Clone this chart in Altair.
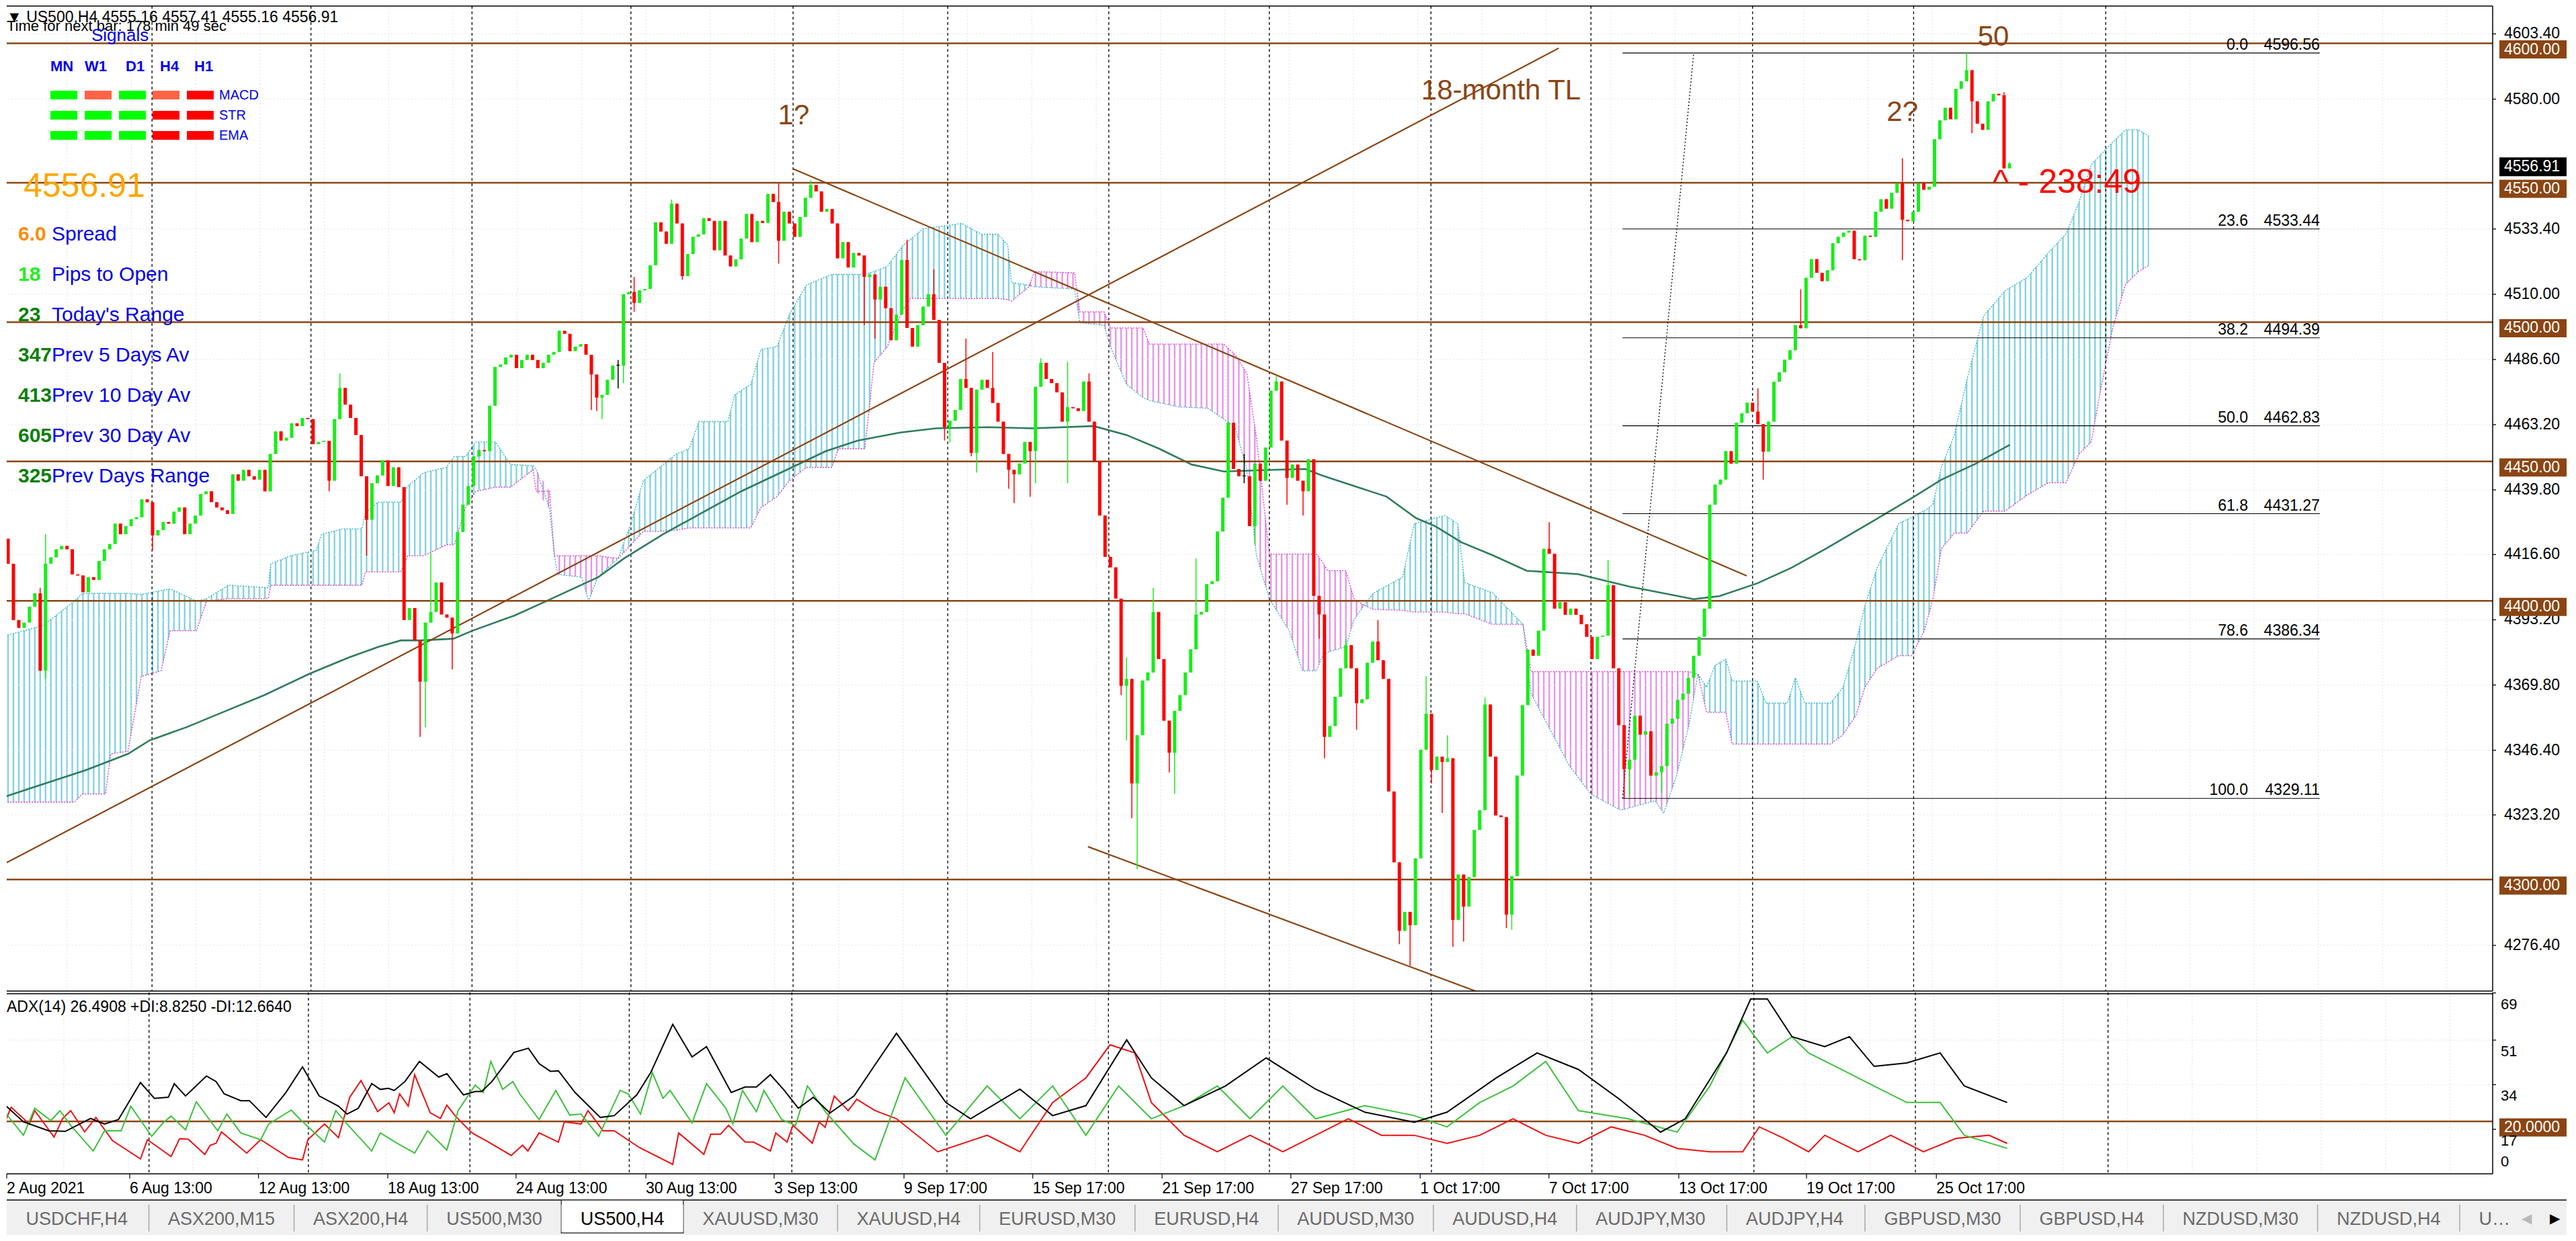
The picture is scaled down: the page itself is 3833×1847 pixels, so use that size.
import altair as alt
import pandas as pd

FONT = "Liberation Sans"
NARROW = "Liberation Sans Narrow, Liberation Sans"
BROWN = "#8B4513"
BULL = "#17EE17"
BEAR = "#FF0000"
BLUE = "#0000EE"

W, H_MAIN, H_ADX = 3699, 1466, 270
X_DOM = [0.376, 463.68]
P_DOM = [4260.0, 4613.4]
A_DOM = [0.0, 69.2]
RIGHT_EDGE = 3809

# ------------------------------------------------------------------ data
title_text = "\u25bc US500,H4  4555.16 4557.41 4555.16 4556.91"
timer_text = "Time for next bar: 178 min 49 sec"
adx_text = "ADX(14) 26.4908 +DI:8.8250 -DI:12.6640"

first_open = 4422.3
closes = [
    4413.3, 4393.1, 4390.3, 4392.2, 4397.9, 4402.7, 4374.9, 4413.3, 4415.6, 4418.5,
    4419.7, 4418.5, 4409.5, 4409.1, 4403.1, 4408.5, 4407.5, 4414.3, 4418.5, 4420.4,
    4427.7, 4423.9, 4426.8, 4429.3, 4430.0, 4436.4, 4435.4, 4423.5, 4425.4, 4428.3,
    4427.7, 4432.0, 4433.5, 4423.9, 4427.7, 4430.6, 4438.3, 4439.3, 4435.4, 4433.5,
    4432.5, 4431.2, 4445.4, 4443.1, 4447.0, 4444.7, 4443.5, 4447.0, 4439.3, 4452.7,
    4460.8, 4457.5, 4458.5, 4463.7, 4462.7, 4465.6, 4465.2, 4456.2, 4457.0, 4457.4,
    4443.1, 4465.2, 4476.4, 4470.4, 4465.6, 4459.5, 4444.7, 4429.1, 4442.2, 4445.0,
    4450.4, 4441.2, 4447.9, 4440.8, 4393.1, 4397.4, 4385.8, 4371.0, 4392.2, 4396.0,
    4406.6, 4395.1, 4394.0, 4388.3, 4424.7, 4434.5, 4441.2, 4451.8, 4454.1, 4453.7,
    4470.0, 4483.9, 4484.8, 4487.3, 4488.3, 4483.5,
    4486.4, 4488.3, 4486.4, 4483.5, 4485.4, 4488.3, 4489.3, 4496.9, 4495.8, 4489.6,
    4491.2, 4492.1, 4488.3, 4481.2, 4472.9, 4473.9, 4479.3, 4484.4, 4484.4, 4510.0,
    4510.8, 4506.9, 4511.4, 4511.9, 4520.4, 4535.8, 4532.5, 4528.1, 4542.5, 4535.4,
    4516.5, 4524.4, 4530.6, 4531.5, 4537.3, 4536.3, 4525.8, 4536.3, 4523.9, 4520.0,
    4522.5, 4530.0, 4538.8, 4528.7, 4536.3, 4535.6, 4546.0, 4543.1, 4529.2, 4539.6,
    4535.4, 4530.6, 4537.7, 4544.6, 4549.2, 4546.9, 4539.6, 4540.6, 4535.4, 4522.9,
    4528.7, 4519.6, 4524.8, 4523.9, 4516.2, 4517.1, 4508.1, 4512.7, 4505.0, 4493.5,
    4502.7, 4522.3, 4497.9, 4491.2, 4498.9, 4505.6, 4510.0, 4500.8, 4485.4, 4462.3,
    4464.6, 4468.5, 4479.6, 4476.4, 4453.1, 4475.8, 4479.3, 4476.4, 4471.0, 4464.3,
    4452.7, 4447.0,
    4445.4, 4449.3, 4457.0, 4453.7, 4476.8, 4485.4, 4479.6, 4478.1, 4474.8, 4464.3,
    4469.5, 4469.1, 4468.1, 4478.7, 4464.3, 4450.2, 4430.6, 4415.8, 4412.0, 4400.8,
    4369.5, 4372.0, 4334.5, 4351.8, 4371.4, 4374.3, 4396.0, 4379.1, 4357.0, 4345.5,
    4360.5, 4366.2, 4374.3, 4382.6, 4395.1, 4396.0, 4406.0, 4407.0, 4424.9, 4437.0,
    4463.9, 4447.3, 4444.7, 4444.7, 4426.8, 4449.3, 4443.1, 4455.0, 4475.4, 4478.7,
    4457.5, 4444.1, 4448.9, 4443.1, 4439.3, 4450.8, 4401.8, 4395.1, 4351.2, 4355.1,
    4365.6, 4375.8, 4384.1, 4375.8, 4363.3, 4364.7, 4377.8, 4385.4, 4378.7, 4372.0,
    4331.6, 4306.2, 4281.6, 4288.4, 4283.6, 4307.6, 4346.6, 4359.5, 4339.3, 4344.1,
    4342.2, 4343.5, 4285.5, 4301.8, 4290.3, 4300.9, 4317.8, 4324.9, 4362.8, 4344.1,
    4323.0, 4322.4, 4287.4,
    4301.2, 4337.3, 4362.6, 4382.5, 4380.3, 4389.3, 4418.7, 4416.9, 4397.2, 4399.5,
    4395.0, 4397.2, 4395.0, 4391.6, 4387.1, 4379.1, 4387.1, 4387.5, 4405.6, 4375.8,
    4355.4, 4339.6, 4343.0, 4358.8, 4352.0, 4353.2, 4337.3, 4338.5, 4340.7, 4355.9,
    4357.7, 4364.5, 4366.7, 4372.4, 4380.3, 4387.1, 4397.2, 4434.5, 4441.7, 4443.5,
    4453.7, 4449.2, 4463.9, 4467.3, 4471.1, 4467.9, 4463.4, 4453.5, 4464.3, 4478.6,
    4482.0, 4486.5, 4489.9, 4498.9, 4497.8, 4515.9, 4522.6, 4517.7, 4514.7, 4518.6,
    4528.3, 4530.6, 4532.1, 4532.8, 4522.6, 4522.2, 4531.0, 4530.6, 4539.6, 4544.1,
    4540.7, 4546.4, 4549.8, 4536.7, 4536.2, 4539.6, 4549.8, 4547.5, 4548.6, 4565.6,
    4572.4, 4576.9, 4572.8, 4583.7, 4586.4, 4590.4, 4579.2, 4571.2, 4569.0, 4579.2,
    4581.9, 4581.4, 4555.16, 4556.91,
]

# (bar, high, low) for visible wicks
wicks = [
    (6, 4404.7, None), (7, 4423.9, 4372.0), (27, None, 4418.1), (60, None, 4439.3),
    (62, 4481.6, None), (67, None, 4416.2), (77, None, 4351.2), (78, None, 4354.7),
    (79, 4417.2, None), (83, None, 4375.4), (109, None, 4468.5), (110, None, 4468.1),
    (111, None, 4465.2), (114, 4486.4, 4476.2), (115, None, 4478.1), (117, 4516.2, 4503.7),
    (124, 4544.0, None), (126, None, 4515.2), (144, 4549.8, 4521.0), (150, 4551.0, None),
    (160, None, 4498.9), (162, None, 4494.1), (168, 4529.6, None), (173, 4519.0, None),
    (175, None, 4457.5), (176, None, 4456.9), (179, 4494.1, None), (180, None, 4451.8),
    (181, None, 4446.0), (184, 4489.3, None), (187, None, 4440.2), (188, None, 4435.1),
    (191, None, 4437.3), (192, None, 4442.2), (193, 4487.0, None), (198, 4485.8, 4442.2),
    (202, 4481.6, None), (208, None, 4366.2), (209, 4379.7, 4349.9), (210, None, 4322.0),
    (211, None, 4303.7), (214, 4404.7, None), (217, None, 4338.4), (218, None, 4330.7),
    (222, 4415.2, None), (231, 4452.7, 4442.2), (233, None, 4420.1), (237, 4480.6, None),
    (239, None, 4434.5), (242, None, 4430.6), (245, None, 4386.4), (246, None, 4343.5),
    (250, 4386.4, None), (252, None, 4353.7), (256, 4393.1, None), (260, None, 4276.8),
    (262, None, 4269.1), (265, 4373.0, None), (266, None, 4334.5), (268, None, 4323.9),
    (269, 4351.8, None), (270, None, 4275.9), (272, None, 4277.8), (276, 4365.3, None),
    (280, None, 4282.6), (281, None, 4282.0), (288, 4428.2, None), (299, 4414.6, None),
    (302, None, 4329.11), (303, None, 4330.0), (309, None, 4331.0), (327, 4476.3, None),
    (328, None, 4443.5), (335, 4511.8, None), (354, 4558.8, 4522.2), (366, 4596.56, None),
    (367, None, 4567.8), (373, 4582.5, None), (374, 4557.41, 4555.16),
]

price_ticks = [4603.4, 4580.0, 4533.4, 4510.0, 4486.6, 4463.2, 4439.8, 4416.6,
               4393.2, 4369.8, 4346.4, 4323.2, 4276.4]
levels = [4600.0, 4550.0, 4500.0, 4450.0, 4400.0, 4300.0]
last_price = 4556.91

fib_pct = ["0.0", "23.6", "38.2", "50.0", "61.8", "78.6", "100.0"]
fib_price = [4596.56, 4533.44, 4494.39, 4462.83, 4431.27, 4386.34, 4329.11]
fib_from, fib_to, fib_pct_at = 301.7, 432.0, 418.6
fib_diag_i = [301.7, 315.0]
fib_diag_p = [4329.11, 4596.56]

trend_names = ["18-month", "down", "channel"]
trend_i0 = [-0.63, 146.7, 201.8]
trend_p0 = [4305.7, 4555.0, 4311.8]
trend_i1 = [289.8, 324.9, 274.9]
trend_p1 = [4598.3, 4409.0, 4259.5]

cloud_i = [-0.6, 6.6, 12.4, 13.9, 18.2, 19.2, 22.4, 24.9, 28.6, 30.3, 35.2, 37.1, 41.2, 48.6,
           49.1, 52.9, 57.6, 58.6, 62.5, 66.1, 66.8, 69.1, 73.4, 74.7, 77.7, 81.9, 83.4, 85.5,
           87.4, 91.1, 93.9, 98.1, 98.7, 101.2, 102.1, 102.7, 107.2, 108.5, 110.2, 114.0,
           116.4, 118.7, 121.2, 124.9, 127.3, 129.1, 134.5, 135.8, 138.8, 140.7, 143.7, 146.0,
           149.2, 153.9, 155.2, 160.1, 161.0, 161.8, 164.3, 167.3, 168.6, 171.0, 178.2, 181.9,
           185.0, 186.8, 187.5, 190.8, 191.8, 199.3, 200.3, 204.8, 206.0, 209.0, 212.1, 213.3,
           218.7, 224.2, 227.2, 229.3, 231.5, 233.3, 235.7, 239.4, 241.9, 244.5, 245.5, 246.6,
           250.0, 251.5, 253.4, 255.1, 260.6, 262.8, 268.5, 270.9, 272.2, 277.4, 283.1, 284.6,
           291.8, 295.8, 301.4, 307.8, 309.4, 311.8, 314.1, 315.8, 317.4, 319.0, 321.0, 322.2,
           326.9, 328.5, 332.5, 334.0, 335.8, 340.6, 342.9, 345.3, 347.0, 349.3, 353.3, 355.7,
           358.1, 359.7, 361.3, 363.7, 366.1, 369.2, 373.2, 377.3, 381.3, 384.6, 387.0, 389.3,
           391.0, 393.3, 395.7, 398.1, 400.1]
cloud_a = [4387.4, 4391.2, 4399.9, 4402.7, 4402.7, 4402.7, 4402.7, 4402.3, 4403.7, 4404.3,
           4399.9, 4400.8, 4405.6, 4404.7, 4413.3, 4416.2, 4418.1, 4423.9, 4425.8, 4425.8,
           4431.6, 4435.4, 4435.4, 4441.2, 4446.0, 4447.9, 4451.8, 4451.8, 4457.0, 4457.0,
           4448.9, 4448.5, 4447.0, 4433.1, 4416.2, 4409.5, 4408.5, 4399.9, 4408.5, 4415.2,
           4427.7, 4443.1, 4447.0, 4452.7, 4454.6, 4464.3, 4464.3, 4473.9, 4477.7, 4490.2,
           4491.2, 4502.7, 4513.3, 4517.1, 4517.1, 4517.1, 4517.7, 4518.1, 4520.0, 4527.7,
           4529.6, 4533.5, 4535.4, 4531.5, 4531.5, 4527.7, 4514.2, 4513.3, 4512.7, 4511.9,
           4499.8, 4498.9, 4491.2, 4477.7, 4472.9, 4471.9, 4469.6, 4469.1, 4465.2, 4462.3,
           4447.0, 4416.2, 4400.8, 4389.3, 4374.9, 4374.9, 4379.7, 4381.6, 4383.5, 4393.1,
           4398.4, 4402.7, 4408.5, 4427.7, 4430.6, 4427.7, 4406.6, 4402.9, 4391.6, 4366.7,
           4340.7, 4330.6, 4324.9, 4328.3, 4323.8, 4337.3, 4355.4, 4373.7, 4369.0, 4376.9,
           4379.1, 4371.2, 4371.2, 4363.3, 4363.3, 4372.4, 4363.3, 4363.3, 4369.0, 4384.8,
           4398.3, 4411.9, 4427.7, 4430.0, 4432.3, 4434.5, 4448.1, 4459.4, 4479.7, 4502.3,
           4511.3, 4515.9, 4524.9, 4531.7, 4543.0, 4556.5, 4559.9, 4564.5, 4569.0, 4569.0,
           4566.7]
cloud_b = [4327.8, 4327.8, 4327.8, 4330.7, 4330.7, 4345.1, 4346.0, 4372.9, 4374.9, 4389.3,
           4389.3, 4399.9, 4400.8, 4400.8, 4405.6, 4405.6, 4405.6, 4405.6, 4405.6, 4405.6,
           4410.4, 4410.4, 4410.4, 4416.2, 4416.2, 4420.1, 4420.1, 4433.5, 4439.3, 4440.8,
           4440.8, 4447.0, 4439.3, 4439.3, 4416.2, 4416.2, 4416.2, 4416.2, 4416.2, 4415.2,
           4420.1, 4424.9, 4424.9, 4425.4, 4426.2, 4426.2, 4426.2, 4426.2, 4426.2, 4433.5,
           4437.4, 4443.1, 4447.9, 4447.9, 4454.6, 4454.6, 4470.0, 4485.4, 4491.2, 4504.6,
           4508.5, 4508.5, 4508.5, 4508.5, 4508.5, 4508.1, 4507.5, 4512.7, 4518.1, 4517.7,
           4503.7, 4503.7, 4497.9, 4497.9, 4497.9, 4492.1, 4492.1, 4492.1, 4492.1, 4488.3,
           4481.6, 4458.5, 4416.8, 4416.8, 4416.8, 4416.8, 4414.3, 4410.8, 4410.8, 4400.8,
           4398.4, 4397.0, 4396.6, 4396.0, 4396.0, 4395.4, 4395.4, 4391.6, 4391.6, 4374.6,
           4374.6, 4374.6, 4374.6, 4374.6, 4374.6, 4374.6, 4374.6, 4373.7, 4360.0, 4360.0,
           4360.0, 4348.6, 4348.6, 4348.6, 4348.6, 4348.6, 4348.6, 4348.6, 4352.0, 4358.8,
           4369.0, 4375.8, 4380.3, 4380.3, 4389.3, 4400.6, 4418.7, 4424.3, 4424.3, 4432.2,
           4432.2, 4437.9, 4442.4, 4442.4, 4452.6, 4457.1, 4475.2, 4497.8, 4513.6, 4518.1,
           4520.4]

ema_i = [-0.6, 5.4, 14.6, 22.4, 26.4, 33.4, 40.7, 47.9, 56.4, 63.7, 69.2, 73.4, 77.1, 83.2,
         86.8, 94.6, 99.9, 110.3, 115.1, 122.4, 129.7, 137.0, 145.5, 152.8, 158.8, 166.7,
         173.4, 183.1, 191.4, 202.9, 209.0, 215.1, 221.2, 227.2, 236.3, 242.4, 245.5, 251.5,
         257.6, 263.1, 266.7, 271.6, 277.4, 283.8, 293.4, 303.0, 315.0, 319.8, 326.9, 333.3,
         339.7, 347.7, 355.7, 361.3, 367.7, 374.1]
ema_v = [4329.7, 4333.5, 4339.3, 4345.1, 4349.9, 4354.7, 4360.5, 4366.2, 4373.9, 4379.7,
         4383.5, 4385.8, 4385.8, 4386.4, 4389.3, 4394.7, 4399.3, 4408.5, 4415.2, 4423.9,
         4431.6, 4439.3, 4447.0, 4453.7, 4457.5, 4460.4, 4461.9, 4462.3, 4461.9, 4462.7,
         4459.5, 4454.6, 4448.9, 4446.4, 4447.0, 4447.3, 4445.0, 4441.2, 4437.4, 4429.7,
         4426.8, 4421.0, 4416.4, 4410.8, 4409.6, 4405.1, 4400.6, 4401.7, 4406.3, 4411.9,
         4418.7, 4427.7, 4436.8, 4443.5, 4449.2, 4456.0]

separators = [26.9, 56.6, 86.7, 116.4, 146.7, 175.6, 205.7, 235.7, 265.9, 295.8, 326.0,
              356.1, 392.0]

date_pos = [-1, 23.3, 47.3, 71.4, 95.3, 119.5, 143.4, 167.6, 191.6, 215.7, 239.7, 263.8,
            287.8, 312.0, 335.8, 360.0]
date_lab = ["2 Aug 2021", "6 Aug 13:00", "12 Aug 13:00", "18 Aug 13:00", "24 Aug 13:00",
            "30 Aug 13:00", "3 Sep 13:00", "9 Sep 17:00", "15 Sep 17:00", "21 Sep 17:00",
            "27 Sep 17:00", "1 Oct 17:00", "7 Oct 17:00", "13 Oct 17:00", "19 Oct 17:00",
            "25 Oct 17:00"]

adx_main = [(-0.6, 27.5), (3.5, 19.8), (8.2, 16.4), (11.3, 16.2), (16.0, 21.1), (18.6, 19.0),
            (21.2, 20.7), (25.3, 34.8), (27.9, 28.8), (30.5, 29.2), (31.6, 34.4), (33.7, 29.7),
            (37.6, 37.3), (39.4, 35.2), (40.9, 30.5), (44.0, 27.9), (45.6, 27.9), (48.7, 21.5),
            (52.4, 31.0), (55.5, 40.8), (58.6, 29.7), (62.2, 25.8), (63.8, 22.8), (65.9, 25.0),
            (68.4, 34.4), (70.0, 32.2), (71.5, 32.6), (72.6, 31.8), (74.6, 35.2), (77.3, 42.9),
            (80.9, 36.9), (82.4, 38.2), (85.5, 30.1), (87.7, 31.4), (88.9, 31.4), (90.8, 35.2),
            (94.9, 46.3), (97.6, 47.9), (99.6, 42.0), (101.7, 39.1), (103.2, 39.3), (106.3, 31.0),
            (111.0, 21.5), (113.6, 22.2), (117.8, 30.1), (120.4, 38.6), (124.5, 57.0),
            (128.1, 44.6), (130.8, 48.5), (135.4, 31.0), (138.0, 33.1), (140.1, 33.1),
            (142.7, 37.8), (145.3, 31.8), (147.9, 25.0), (150.7, 29.2), (153.8, 23.2),
            (158.3, 29.7), (162.2, 41.6), (166.2, 53.6), (175.4, 27.2), (180.0, 21.0),
            (189.2, 32.3), (195.3, 22.2), (201.5, 26.0), (209.1, 51.1), (213.7, 36.6),
            (219.8, 26.0), (227.5, 33.5), (235.1, 44.2), (244.3, 32.3), (253.5, 23.5),
            (262.7, 19.7), (268.8, 23.5), (278.0, 36.6), (285.6, 46.1), (293.3, 39.8),
            (300.9, 28.5), (308.6, 15.9), (313.2, 21.0), (320.9, 46.1), (325.4, 66.7),
            (328.5, 66.7), (333.1, 52.3), (339.2, 48.5), (343.8, 52.3), (348.4, 41.0),
            (354.5, 42.3), (360.7, 46.1), (365.2, 33.5), (373.2, 27.2)]
adx_plus = [(-0.6, 25.0), (3.5, 14.7), (5.6, 25.0), (8.6, 20.3), (10.3, 24.1), (12.3, 18.5),
            (16.5, 8.7), (18.6, 16.4), (21.7, 16.4), (23.5, 25.8), (27.4, 14.3), (29.5, 19.4),
            (31.0, 22.0), (33.7, 16.8), (35.7, 27.5), (39.7, 16.4), (41.4, 22.8), (44.0, 15.6),
            (47.7, 13.0), (49.2, 19.0), (53.4, 24.3), (54.9, 21.1), (59.6, 12.1), (61.7, 24.1),
            (63.8, 19.0), (68.4, 8.7), (70.0, 15.6), (73.1, 11.7), (76.4, 7.9), (78.8, 16.4),
            (82.4, 9.1), (84.5, 24.1), (87.7, 33.9), (89.2, 31.0), (90.6, 42.9), (92.8, 32.2),
            (94.7, 35.2), (96.0, 30.5), (99.6, 20.7), (102.7, 31.8), (105.3, 22.4),
            (107.4, 22.8), (110.7, 14.3), (114.7, 31.8), (116.2, 30.5), (118.5, 22.8),
            (120.7, 38.6), (122.7, 28.8), (124.0, 31.8), (128.1, 19.4), (130.8, 34.4),
            (134.4, 25.0), (135.7, 19.0), (137.5, 31.8), (140.1, 23.7), (141.5, 31.8),
            (144.8, 20.7), (147.4, 18.5), (149.6, 33.5), (153.1, 23.3), (158.3, 11.3),
            (162.2, 5.3), (167.8, 36.6), (175.4, 14.7), (183.1, 33.5), (189.2, 21.0),
            (195.3, 33.5), (201.5, 14.7), (207.6, 33.5), (213.7, 21.0), (219.8, 26.0),
            (226.0, 33.5), (232.1, 21.0), (238.2, 33.5), (244.3, 21.0), (253.5, 26.0),
            (262.7, 22.2), (268.8, 17.9), (274.9, 27.2), (281.1, 33.5), (287.2, 42.9),
            (293.3, 24.1), (302.5, 21.0), (311.7, 15.9), (317.8, 33.5), (323.9, 58.6),
            (328.5, 46.1), (333.1, 52.3), (336.2, 46.1), (342.3, 39.8), (348.4, 33.5),
            (354.5, 27.2), (360.7, 27.2), (365.2, 14.7), (373.2, 9.7)]
adx_minus = [(-0.6, 16.4), (1.2, 25.4), (4.6, 19.0), (5.6, 24.1), (9.2, 14.0), (10.8, 21.1),
             (12.3, 24.1), (14.9, 16.0), (17.0, 21.5), (20.1, 12.6), (25.3, 5.7), (26.6, 13.0),
             (31.0, 6.6), (32.6, 13.4), (34.2, 13.2), (37.3, 7.4), (38.3, 10.9), (39.4, 11.7),
             (40.4, 16.0), (45.1, 7.9), (47.7, 13.0), (52.9, 6.2), (55.5, 5.3), (56.5, 13.0),
             (59.6, 19.0), (62.2, 13.8), (64.3, 29.2), (66.4, 35.6), (69.5, 23.7), (71.6, 27.1),
             (72.6, 23.3), (73.6, 30.5), (75.2, 25.8), (76.4, 37.8), (79.3, 23.3), (81.2, 21.1),
             (82.4, 26.2), (84.0, 22.0), (87.1, 15.6), (90.2, 12.1), (94.4, 7.0), (96.5, 10.9),
             (97.5, 8.7), (99.6, 15.6), (103.2, 12.1), (104.3, 19.8), (107.4, 19.0),
             (108.7, 24.1), (109.5, 22.0), (111.5, 16.4), (113.6, 16.4), (118.3, 10.0),
             (124.5, 3.6), (125.6, 15.6), (130.3, 7.4), (131.6, 15.1), (133.4, 15.1),
             (134.9, 18.5), (138.0, 12.1), (139.6, 12.1), (142.7, 8.7), (143.7, 15.6),
             (145.8, 12.1), (146.9, 18.5), (150.5, 11.7), (151.8, 19.8), (152.9, 17.7),
             (154.6, 29.7), (157.2, 24.1), (158.8, 28.4), (162.2, 24.1), (166.2, 21.0),
             (173.9, 8.4), (183.1, 14.7), (189.2, 8.4), (195.3, 27.2), (201.5, 36.6),
             (206.0, 49.2), (210.6, 46.1), (213.7, 27.2), (219.8, 14.7), (226.0, 8.4),
             (232.1, 14.7), (238.2, 8.4), (244.3, 14.7), (250.4, 21.0), (256.6, 14.7),
             (262.7, 14.7), (268.8, 11.6), (274.9, 14.7), (281.1, 21.0), (287.2, 14.7),
             (293.3, 11.6), (299.4, 17.9), (305.6, 14.7), (311.7, 9.7), (317.8, 8.4),
             (323.9, 8.4), (327.0, 17.9), (331.6, 13.5), (336.2, 8.4), (339.2, 14.7),
             (345.4, 8.4), (351.5, 14.7), (357.6, 8.4), (363.7, 13.5), (369.8, 14.7),
             (373.2, 11.6)]
adx_level = 20.0
adx_ticks = [69, 51, 34, 17]

notes = ["1?", "18-month TL", "50", "2?"]
notes_i = [146.8, 279.0, 371.0, 354.0]
notes_p = [4574.1, 4583.0, 4602.3, 4575.3]
countdown = "^ - 238:49"
countdown_i, countdown_p = 370.9, 4546.4

info_vals = ["6.0", "18", "23", "347", "413", "605", "325"]
info_labs = ["Spread", "Pips to Open", "Today's Range", "Prev 5 Days Av", "Prev 10 Day Av",
             "Prev 30 Day Av", "Prev Days Range"]
info_cols = ["#FF8C00", "#22EE22", "#0A7F0A", "#0A7F0A", "#0A7F0A", "#0A7F0A", "#0A7F0A"]

signal_tfs = ["MN", "W1", "D1", "H4", "H1"]
signal_rows = ["MACD", "STR", "EMA"]
signal_state = [["up", "soft", "up", "soft", "down"],
                ["up", "up", "up", "down", "down"],
                ["up", "up", "up", "down", "down"]]
signal_colors = {"up": "#00FF00", "soft": "#FF6347", "down": "#FF0000"}

tabs = ["USDCHF,H4", "ASX200,M15", "ASX200,H4", "US500,M30", "US500,H4", "XAUUSD,M30",
        "XAUUSD,H4", "EURUSD,M30", "EURUSD,H4", "AUDUSD,M30", "AUDUSD,H4", "AUDJPY,M30",
        "AUDJPY,H4", "GBPUSD,M30", "GBPUSD,H4", "NZDUSD,M30", "NZDUSD,H4", "USDJPY,M30"]
active_tab = "US500,H4"

# ------------------------------------------------------------------ helpers
XS = alt.Scale(domain=X_DOM, nice=False, zero=False)
PS = alt.Scale(domain=P_DOM, nice=False, zero=False)
AS = alt.Scale(domain=A_DOM, nice=False, zero=False)


def X(f):
    return alt.X(f"{f}:Q", scale=XS, axis=None)


def P(f):
    return alt.Y(f"{f}:Q", scale=PS, axis=None)


def A(f):
    return alt.Y(f"{f}:Q", scale=AS, axis=None)


def one():
    return pd.DataFrame({"a": [0]})


def pix_text(rows, **kw):
    df = pd.DataFrame(rows, columns=["px", "py", "t"])
    base = dict(align="left", baseline="alphabetic", font=FONT)
    base.update(kw)
    return alt.Chart(df).mark_text(**base).encode(
        x=alt.X("px:Q", scale=None, axis=None),
        y=alt.Y("py:Q", scale=None, axis=None),
        text="t:N")


# ------------------------------------------------------------------ candles
opens = [first_open] + closes[:-1]
wd = {k: (h, l) for k, h, l in wicks}
crow = []
for k, (o, c) in enumerate(zip(opens, closes)):
    top, bot = max(o, c), min(o, c)
    h, l = wd.get(k, (None, None))
    hi = h if h is not None else top
    lo = l if l is not None else bot
    col = BULL if c > o + 0.05 else (BEAR if c < o - 0.05 else "#000000")
    if top - bot < 0.3:
        top = bot + 0.3
    crow.append(dict(i=k, top=top, bot=bot, hi=max(hi, top), lo=min(lo, bot), col=col))
cdf = pd.DataFrame(crow)

wick_layer = alt.Chart(cdf).mark_rule(strokeWidth=1.5, clip=True).encode(
    x=X("i"), y=P("lo"), y2=alt.Y2("hi"), color=alt.Color("col:N", scale=None))
body_layer = alt.Chart(cdf).mark_bar(width=5, clip=True).encode(
    x=X("i"), y=P("bot"), y2=alt.Y2("top"), color=alt.Color("col:N", scale=None))

# ------------------------------------------------------------------ grid / separators
grid_i = [g for g in (-1 + 12.02 * k for k in range(40)) if X_DOM[0] <= g <= X_DOM[1]]
grid_v = alt.Chart(pd.DataFrame({"i": grid_i})).mark_rule(
    color="#E0E0E0", strokeDash=[2, 3], strokeWidth=1).encode(x=X("i"))
ptick_df = pd.DataFrame({"p": price_ticks, "lab": [f"{v:.2f}" for v in price_ticks]})
grid_h = alt.Chart(ptick_df).mark_rule(
    color="#E6E6E6", strokeDash=[2, 3], strokeWidth=1).encode(y=P("p"))
sep_df = pd.DataFrame({"i": separators})
sep_main = alt.Chart(sep_df).mark_rule(color="black", strokeDash=[4, 4], strokeWidth=1.3).encode(x=X("i"))

# price axis drawn with marks
p_axis_line = alt.Chart(one()).mark_rule(color="black", strokeWidth=1.5).encode(
    x=alt.value(W), y=alt.value(0), y2=alt.value(H_MAIN))
p_ticks = alt.Chart(ptick_df).mark_rule(color="black", strokeWidth=1.3).encode(
    x=alt.value(W), x2=alt.value(W + 5), y=P("p"))
p_labels = alt.Chart(ptick_df).mark_text(align="left", baseline="middle", font=FONT,
                                         fontSize=23, color="black").encode(
    x=alt.value(3716), y=P("p"), text="lab:N")

# ------------------------------------------------------------------ ichimoku cloud
def cloud_segments(ci, ca, cb):
    rows, seg, cur, sign = [], 0, [], 0
    for i, a, b in zip(ci, ca, cb):
        d = a - b
        s = 0 if abs(d) < 0.6 else (1 if d > 0 else -1)
        if s == 0:
            cur.append((i, a, b))
            if len(cur) > 1 and sign != 0:
                rows += [(seg, sign) + p for p in cur]
                seg += 1
            cur, sign = [(i, a, b)], 0
            continue
        if sign == 0:
            sign = s
        elif s != sign:
            rows += [(seg, sign) + p for p in cur]
            seg += 1
            cur, sign = [cur[-1]], s
        cur.append((i, a, b))
    if len(cur) > 1 and sign != 0:
        rows += [(seg, sign) + p for p in cur]
    df = pd.DataFrame(rows, columns=["seg", "sign", "i", "a", "b"])
    df["lo"] = df[["a", "b"]].min(axis=1)
    df["hi"] = df[["a", "b"]].max(axis=1)
    return df.sort_values(["seg", "i"]).reset_index(drop=True)


cloud_df = cloud_segments(cloud_i, cloud_a, cloud_b)
cloud_up = alt.Chart(cloud_df[cloud_df["sign"] == 1]).mark_area(
    color="#2FB4CA", opacity=0.6, clip=True, orient="vertical", interpolate="linear").encode(
    x=X("i"), y=P("lo"), y2=alt.Y2("hi"), detail="seg:N")
cloud_dn = alt.Chart(cloud_df[cloud_df["sign"] == -1]).mark_area(
    color="#D23CD2", opacity=0.55, clip=True, orient="vertical", interpolate="linear").encode(
    x=X("i"), y=P("lo"), y2=alt.Y2("hi"), detail="seg:N")
# white stripes between bars turn the filled cloud into a vertical hatch
stripe_i = [k + 0.5 for k in range(-1, 465) if X_DOM[0] - 1 <= k + 0.5 <= X_DOM[1] + 1]
hatch = alt.Chart(pd.DataFrame({"i": stripe_i})).mark_rule(
    color="white", strokeWidth=5.6, clip=True).encode(x=X("i"))
cl_df = pd.DataFrame({"i": cloud_i, "a": cloud_a, "b": cloud_b})
cloud_a_line = alt.Chart(cl_df).mark_line(color="#22AFC4", strokeDash=[2, 2], strokeWidth=1.3,
                                          clip=True).encode(x=X("i"), y=P("a"), order="i:Q")
cloud_b_line = alt.Chart(cl_df).mark_line(color="#D82CD8", strokeDash=[2, 2], strokeWidth=1.3,
                                          clip=True).encode(x=X("i"), y=P("b"), order="i:Q")

ema_layer = alt.Chart(pd.DataFrame({"i": ema_i, "v": ema_v})).mark_line(
    color="#2E7D5B", strokeWidth=2.6, clip=True).encode(x=X("i"), y=P("v"), order="i:Q")

# ------------------------------------------------------------------ levels, lines, fib
lev_df = pd.DataFrame({"p": levels, "lab": [f"{v:.2f}" for v in levels]})
lev_rule = alt.Chart(lev_df).mark_rule(color=BROWN, strokeWidth=2.5).encode(y=P("p"))
lev_box = alt.Chart(lev_df).mark_rect(color=BROWN, height=27, yOffset=9).encode(
    y=P("p"), x=alt.value(3709), x2=alt.value(RIGHT_EDGE))
lev_txt = alt.Chart(lev_df).mark_text(align="left", baseline="middle", color="white",
                                      font=FONT, fontSize=23, yOffset=9).encode(
    y=P("p"), x=alt.value(3716), text="lab:N")
cur_df = pd.DataFrame({"p": [last_price], "lab": [f"{last_price:.2f}"]})
cur_box = alt.Chart(cur_df).mark_rect(color="black", height=28, yOffset=5).encode(
    y=P("p"), x=alt.value(3709), x2=alt.value(RIGHT_EDGE))
cur_txt = alt.Chart(cur_df).mark_text(align="left", baseline="middle", color="white",
                                      font=FONT, fontSize=23, yOffset=5).encode(
    y=P("p"), x=alt.value(3716), text="lab:N")

tl_rows = []
for n, i0, p0, i1, p1 in zip(trend_names, trend_i0, trend_p0, trend_i1, trend_p1):
    tl_rows += [dict(name=n, i=i0, p=p0), dict(name=n, i=i1, p=p1)]
tl_layer = alt.Chart(pd.DataFrame(tl_rows)).mark_line(color=BROWN, strokeWidth=2.2, clip=True).encode(
    x=X("i"), y=P("p"), detail="name:N", order="i:Q")

fib_df = pd.DataFrame({"p": fib_price, "pct": fib_pct, "lab": [f"{v:.2f}" for v in fib_price],
                       "x0": fib_from, "x1": fib_to, "xp": fib_pct_at})
fib_rule = alt.Chart(fib_df).mark_rule(color="black", strokeWidth=1.1).encode(
    x=X("x0"), x2=alt.X2("x1"), y=P("p"))
fib_lab = alt.Chart(fib_df).mark_text(align="right", baseline="alphabetic", dy=-5, font=FONT,
                                      fontSize=23, color="black").encode(
    x=X("x1"), y=P("p"), text="lab:N")
fib_pct_t = alt.Chart(fib_df).mark_text(align="right", baseline="alphabetic", dy=-5, font=FONT,
                                        fontSize=23, color="black").encode(
    x=X("xp"), y=P("p"), text="pct:N")
fib_diag = alt.Chart(pd.DataFrame({"i": fib_diag_i, "p": fib_diag_p})).mark_line(
    color="black", strokeDash=[2, 3], strokeWidth=1.3).encode(x=X("i"), y=P("p"), order="i:Q")

note_layer = alt.Chart(pd.DataFrame({"t": notes, "i": notes_i, "p": notes_p})).mark_text(
    color=BROWN, font=NARROW, fontSize=42, align="center", baseline="middle").encode(
    x=X("i"), y=P("p"), text="t:N")
count_layer = alt.Chart(pd.DataFrame({"t": [countdown], "i": [countdown_i], "p": [countdown_p]})).mark_text(
    color="#FF0000", font=FONT, fontSize=50, align="left", baseline="alphabetic").encode(
    x=X("i"), y=P("p"), text="t:N")

# ------------------------------------------------------------------ pixel overlays (main)
title_l = pix_text([(0, 24, title_text)], fontSize=23, color="black")
timer_l = pix_text([(0, 37, timer_text)], fontSize=22, color="black")
signals_l = pix_text([(126, 52, "Signals")], fontSize=26, color=BLUE)
tf_x = [65, 116, 177, 228, 279]
tf_l = pix_text([(x, 97, t) for x, t in zip(tf_x, signal_tfs)], fontSize=22, color=BLUE,
                fontWeight="bold")
box_x = [65, 116, 167, 217, 268]
box_y = [126, 156, 186]
sb_rows = []
for r, row in enumerate(signal_state):
    for c, st in enumerate(row):
        sb_rows.append(dict(x0=box_x[c], x1=box_x[c] + 40, y0=box_y[r], y1=box_y[r] + 13,
                            col=signal_colors[st]))
sig_boxes = alt.Chart(pd.DataFrame(sb_rows)).mark_rect().encode(
    x=alt.X("x0:Q", scale=None, axis=None), x2="x1:Q",
    y=alt.Y("y0:Q", scale=None, axis=None), y2="y1:Q",
    color=alt.Color("col:N", scale=None))
sig_lab = pix_text([(316, by + 13, t) for by, t in zip(box_y, signal_rows)], fontSize=20,
                   color=BLUE)
big_price = pix_text([(25, 284, f"{last_price:.2f}")], fontSize=50, color="#FFA500")
info_rows_v = []
info_rows_l = []
for k, (v, l, c) in enumerate(zip(info_vals, info_labs, info_cols)):
    info_rows_v.append(dict(px=17, py=349 + 60 * k, t=v, col=c))
    info_rows_l.append((67, 349 + 60 * k, l))
info_v = alt.Chart(pd.DataFrame(info_rows_v)).mark_text(
    align="left", baseline="alphabetic", font=FONT, fontSize=30, fontWeight="bold").encode(
    x=alt.X("px:Q", scale=None, axis=None), y=alt.Y("py:Q", scale=None, axis=None),
    text="t:N", color=alt.Color("col:N", scale=None))
info_l = pix_text(info_rows_l, fontSize=30, color=BLUE)

frame_top = alt.Chart(one()).mark_rule(color="black", strokeWidth=1.5).encode(
    x=alt.value(0), x2=alt.value(W), y=alt.value(0))
frame_bot = alt.Chart(one()).mark_rule(color="black", strokeWidth=1.5).encode(
    x=alt.value(0), x2=alt.value(W), y=alt.value(H_MAIN))

main = alt.layer(
    cloud_up, cloud_dn, hatch, grid_v, grid_h, sep_main, cloud_a_line, cloud_b_line, ema_layer,
    lev_rule, tl_layer, fib_rule, fib_diag, fib_lab, fib_pct_t,
    wick_layer, body_layer, p_axis_line, p_ticks, p_labels, lev_box, lev_txt, cur_box, cur_txt,
    note_layer, count_layer, title_l, timer_l, signals_l, tf_l, sig_boxes, sig_lab,
    big_price, info_v, info_l, frame_top, frame_bot,
).properties(width=W, height=H_MAIN)

# ------------------------------------------------------------------ ADX panel
def adx_df(pts):
    return pd.DataFrame(pts, columns=["i", "v"])


a_grid_h = alt.Chart(pd.DataFrame({"v": [51, 34, 17]})).mark_rule(
    color="#E6E6E6", strokeDash=[2, 3]).encode(y=A("v"))
a_grid_v = alt.Chart(pd.DataFrame({"i": grid_i})).mark_rule(
    color="#E0E0E0", strokeDash=[2, 3], strokeWidth=1).encode(x=X("i"))
a_sep = alt.Chart(sep_df).mark_rule(color="black", strokeDash=[4, 4], strokeWidth=1.3).encode(x=X("i"))
a_level = alt.Chart(pd.DataFrame({"v": [adx_level], "lab": [f"{adx_level:.4f}"]}))
a_level_rule = a_level.mark_rule(color=BROWN, strokeWidth=2.5).encode(y=A("v"))
a_level_box = a_level.mark_rect(color=BROWN, height=27, yOffset=9).encode(
    y=A("v"), x=alt.value(3709), x2=alt.value(RIGHT_EDGE))
a_level_txt = a_level.mark_text(align="left", baseline="middle", color="white", font=FONT,
                                fontSize=23, yOffset=9).encode(
    y=A("v"), x=alt.value(3716), text="lab:N")
l_adx = alt.Chart(adx_df(adx_main)).mark_line(color="black", strokeWidth=2, clip=True).encode(
    x=X("i"), y=A("v"), order="i:Q")
l_plus = alt.Chart(adx_df(adx_plus)).mark_line(color="#3CC23C", strokeWidth=2, clip=True).encode(
    x=X("i"), y=A("v"), order="i:Q")
l_minus = alt.Chart(adx_df(adx_minus)).mark_line(color="#EE1111", strokeWidth=2, clip=True).encode(
    x=X("i"), y=A("v"), order="i:Q")
a_tick_df = pd.DataFrame({"v": adx_ticks, "t": [str(v) for v in adx_ticks]})
a_axis_line = alt.Chart(one()).mark_rule(color="black", strokeWidth=1.5).encode(
    x=alt.value(W), y=alt.value(0), y2=alt.value(H_ADX))
a_ticks = alt.Chart(a_tick_df).mark_rule(color="black", strokeWidth=1.3).encode(
    x=alt.value(W), x2=alt.value(W + 5), y=A("v"))
a_labs = alt.Chart(a_tick_df).mark_text(align="left", baseline="top", dy=7, font=FONT,
                                        fontSize=22, color="black").encode(
    y=A("v"), x=alt.value(3711), text="t:N")
a_zero = alt.Chart(pd.DataFrame({"v": [0], "t": ["0"]})).mark_text(
    align="left", baseline="bottom", dy=-6, font=FONT, fontSize=22, color="black").encode(
    y=A("v"), x=alt.value(3711), text="t:N")
a_top = alt.Chart(one()).mark_rule(color="black", strokeWidth=1.5).encode(
    x=alt.value(0), x2=alt.value(W), y=alt.value(2))
a_bot = alt.Chart(one()).mark_rule(color="black", strokeWidth=1.5).encode(
    x=alt.value(0), x2=alt.value(W), y=alt.value(H_ADX))
a_head = pix_text([(0, 29, adx_text)], fontSize=23, color="black")

d_df = pd.DataFrame({"i": [max(p, X_DOM[0]) for p in date_pos], "t": date_lab})
d_ticks = alt.Chart(d_df).mark_rule(color="black", strokeWidth=1.2).encode(
    x=X("i"), y=alt.value(H_ADX), y2=alt.value(H_ADX + 7))
d_labels = alt.Chart(d_df).mark_text(align="left", baseline="alphabetic", font=FONT,
                                     fontSize=23, color="black").encode(
    x=X("i"), y=alt.value(H_ADX + 29), text="t:N")

# tab bar (layout from label widths)
AW = {"A": .667, "B": .667, "C": .722, "D": .722, "E": .667, "F": .611, "G": .778, "H": .722,
      "J": .5, "M": .833, "N": .722, "P": .667, "R": .722, "S": .667, "U": .722, "X": .667,
      "Y": .667, "Z": .611, ",": .278}
TAB_FS = 27
TAB_PAD = 57
TAB_Y0, TAB_Y1 = H_ADX + 39, H_ADX + 91
COVER_X = 3732
tab_rows = []
xpos = 0.0
for t in tabs:
    tw = sum(AW.get(ch, .556) for ch in t) * TAB_FS
    w = tw + TAB_PAD
    tab_rows.append(dict(t=t, x0=xpos, x1=xpos + w, xt=xpos + TAB_PAD / 2,
                         lim=max(COVER_X - (xpos + TAB_PAD / 2), 0),
                         col="black" if t == active_tab else "#6A6A6A"))
    xpos += w
tab_df = pd.DataFrame(tab_rows)
full_tabs = tab_df[tab_df.x1 <= COVER_X]
cut_tabs = tab_df[(tab_df.x1 > COVER_X) & (tab_df.xt < COVER_X)]

tab_bg = alt.Chart(one()).mark_rect(color="#F0F0F0").encode(
    x=alt.value(0), x2=alt.value(RIGHT_EDGE), y=alt.value(TAB_Y0), y2=alt.value(TAB_Y1))
tab_line = alt.Chart(one()).mark_rule(color="#404040", strokeWidth=2).encode(
    x=alt.value(0), x2=alt.value(RIGHT_EDGE), y=alt.value(TAB_Y0))
tab_act = alt.Chart(tab_df[tab_df.t == active_tab]).mark_rect(
    color="white", stroke="#404040", strokeWidth=1.5).encode(
    x=alt.X("x0:Q", scale=None, axis=None), x2="x1:Q",
    y=alt.value(TAB_Y0), y2=alt.value(TAB_Y1 - 3))
tab_sep = alt.Chart(full_tabs).mark_rule(color="#A8A8A8", strokeWidth=1.5).encode(
    x=alt.X("x1:Q", scale=None, axis=None), y=alt.value(TAB_Y0 + 7), y2=alt.value(TAB_Y1 - 5))
tab_txt = alt.Chart(full_tabs).mark_text(align="left", baseline="alphabetic", font=FONT,
                                         fontSize=TAB_FS).encode(
    x=alt.X("xt:Q", scale=None, axis=None), y=alt.value(TAB_Y0 + 37), text="t:N",
    color=alt.Color("col:N", scale=None))
cut_lim = float(cut_tabs["lim"].iloc[0]) if len(cut_tabs) else 10.0
tab_cut = alt.Chart(cut_tabs).mark_text(align="left", baseline="alphabetic", font=FONT,
                                        fontSize=TAB_FS, limit=cut_lim, ellipsis="",
                                        color="#6A6A6A").encode(
    x=alt.X("xt:Q", scale=None, axis=None), y=alt.value(TAB_Y0 + 37), text="t:N")
tab_cover = alt.Chart(one()).mark_rect(color="#F0F0F0").encode(
    x=alt.value(COVER_X), x2=alt.value(RIGHT_EDGE), y=alt.value(TAB_Y0 + 2), y2=alt.value(TAB_Y1))
tab_arrows = pix_text([(3742, TAB_Y0 + 34, "\u25c0")], fontSize=20, color="#B8B8B8")
tab_arrows2 = pix_text([(3784, TAB_Y0 + 34, "\u25b6")], fontSize=20, color="black")

adx = alt.layer(
    a_grid_v, a_grid_h, a_sep, a_level_rule, l_minus, l_plus, l_adx, a_axis_line, a_ticks,
    a_level_box, a_level_txt, a_labs, a_zero, a_top, a_bot, a_head, d_ticks, d_labels,
    tab_bg, tab_line, tab_act, tab_sep, tab_txt, tab_cut, tab_cover, tab_arrows, tab_arrows2,
).properties(width=W, height=H_ADX)

chart = alt.vconcat(main, adx, spacing=0).properties(
    padding=0, background="white").configure_view(stroke=None)

chart.save("out.html", embed_options={"renderer": "svg", "actions": False})
